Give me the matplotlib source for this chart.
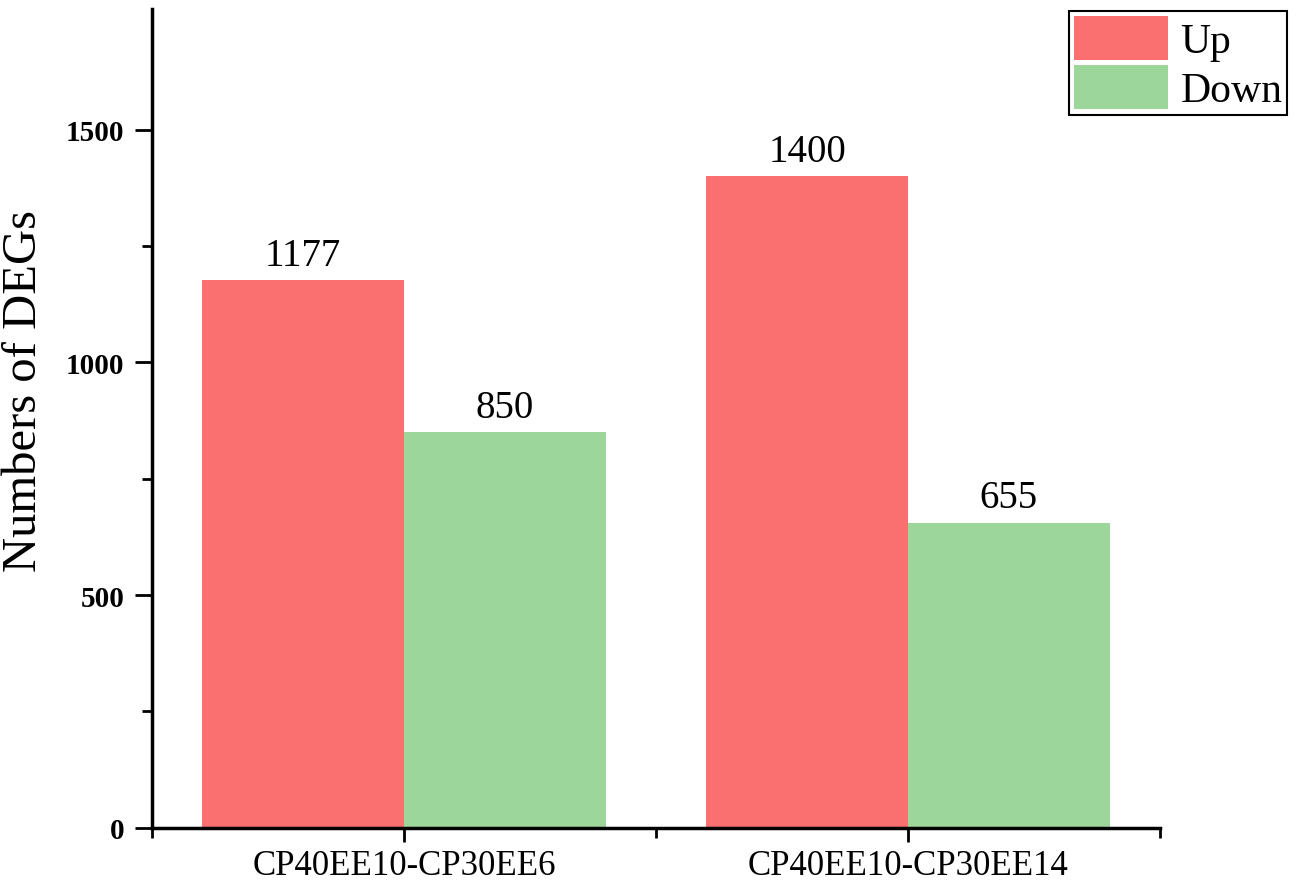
import numpy as np
import matplotlib.pyplot as plt
from matplotlib.ticker import FixedLocator

plt.rcParams['font.family'] = ['Liberation Serif', 'DejaVu Serif']

groups = ['CP40EE10-CP30EE6', 'CP40EE10-CP30EE14']
up = [1177, 1400]
down = [850, 655]

x = np.arange(1, len(groups) + 1)
w = 0.4

fig = plt.figure(figsize=(12.99, 8.95), dpi=100)
# axes spans from the y axis (x=152px) to the end of the x axis (x=1160px)
ax = fig.add_axes([0.117, 0.074, 0.776, 0.915])

b1 = ax.bar(x - w/2, up, w, color='#FA6F6F', label='Up')
b2 = ax.bar(x + w/2, down, w, color='#9DD69A', label='Down')

for bars in (b1, b2):
    for r in bars:
        ax.text(r.get_x() + r.get_width()/2, r.get_height() + 14, '%d' % r.get_height(),
                ha='center', va='bottom', fontsize=28)

ax.set_xlim(0.5, 2.5)
ax.set_ylim(0, 1760)
ax.set_xticks(x)
ax.set_xticklabels(groups, fontsize=25)
ax.xaxis.set_minor_locator(FixedLocator([0.5, 1.5, 2.5]))
ax.set_yticks([0, 500, 1000, 1500])
ax.yaxis.set_minor_locator(FixedLocator([250, 750, 1250]))
for lab in ax.get_yticklabels():
    lab.set_fontsize(21)
    lab.set_fontweight('bold')

ax.tick_params(which='major', length=12, width=2, direction='out', pad=8)
ax.tick_params(which='minor', length=7, width=2, direction='out')
ax.tick_params(axis='x', which='major', length=10, pad=5)

ax.spines['top'].set_visible(False)
ax.spines['right'].set_visible(False)
ax.spines['left'].set_linewidth(2.5)
ax.spines['bottom'].set_linewidth(2.5)

ax.set_ylabel('Numbers of DEGs', fontsize=35)
ax.yaxis.set_label_coords(-0.105, 0.535)

leg = fig.legend(loc='upper right', bbox_to_anchor=(0.991, 0.987), fontsize=30, fancybox=False,
                 framealpha=1, edgecolor='black', handlelength=2.25, handleheight=1.25,
                 labelspacing=0.1, borderpad=0.12, handletextpad=0.3, borderaxespad=0)
leg.get_frame().set_linewidth(1.5)

fig.savefig('out.png', dpi=100)
